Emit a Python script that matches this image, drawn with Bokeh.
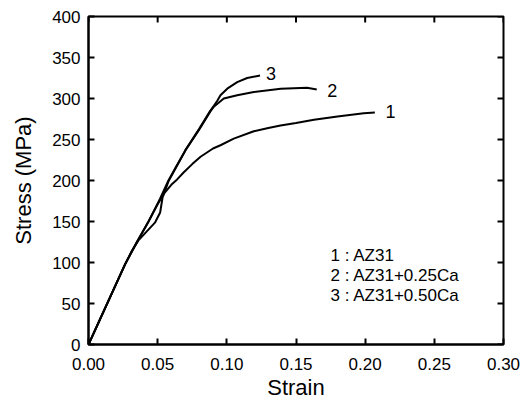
import math
from bokeh.plotting import figure
from bokeh.models import Range1d, FixedTicker, NumeralTickFormatter
from bokeh.embed import file_html
from bokeh.resources import INLINE
from bokeh.core.properties import value

# ---- data ----
strain_1 = [0.0, 0.0265, 0.035, 0.0434, 0.050, 0.055, 0.060, 0.0639, 0.0689, 0.075, 0.081, 0.090,
            0.0954, 0.105, 0.1195, 0.130, 0.1388, 0.150, 0.163, 0.180, 0.199, 0.207]
stress_1 = [0, 98, 125, 150, 171, 185, 195, 201, 210, 220, 229, 239,
            243, 251, 260, 264, 267, 270, 274, 278, 282, 283]

strain_2 = [0.0, 0.0265, 0.035, 0.0434, 0.0482, 0.0518, 0.0578, 0.0640, 0.0701, 0.080, 0.088,
            0.0906, 0.0978, 0.1075, 0.1195, 0.139, 0.158, 0.165]
stress_2 = [0, 98, 125, 150, 166, 178, 200, 219, 237, 262, 284,
            290, 300, 304, 308, 312, 313, 311]

strain_3 = [0.0, 0.0265, 0.0313, 0.0361, 0.0482, 0.0518, 0.0535, 0.0578, 0.0640, 0.0701,
            0.080, 0.088, 0.0906, 0.093, 0.0954, 0.1003, 0.1075, 0.1147, 0.124]
stress_3 = [0, 98, 114, 127, 149, 161, 179, 199, 218, 237,
            263, 285, 291, 297, 304, 312, 320, 325, 328]

curve_ids = ["1", "2", "3"]
curve_label_x = [0.2147, 0.1725, 0.1283]
curve_label_y = [284.5, 310, 331]

legend_lines = ["1 : AZ31", "2 : AZ31+0.25Ca", "3 : AZ31+0.50Ca"]
legend_x = [0.175, 0.175, 0.175]
legend_y = [109, 84.5, 60]

x_ticks = [0.0, 0.05, 0.10, 0.15, 0.20, 0.25, 0.30]
y_ticks = [0, 50, 100, 150, 200, 250, 300, 350, 400]

FONT = "Liberation Sans"

p = figure(width=528, height=406, output_backend="svg", toolbar_location=None,
           x_range=Range1d(x_ticks[0], x_ticks[-1]), y_range=Range1d(y_ticks[0], y_ticks[-1]),
           min_border_left=88, min_border_right=25, min_border_top=16, min_border_bottom=62,
           x_axis_label="Strain", y_axis_label="Stress (MPa)")
p.grid.visible = False
p.outline_line_color = "black"
p.outline_line_width = 2
p.background_fill_color = "white"

for ax in (p.xaxis[0], p.yaxis[0]):
    ax.axis_line_width = 2
    ax.axis_line_color = "black"
    ax.major_tick_in = 6
    ax.major_tick_out = 0
    ax.major_tick_line_width = 2
    ax.minor_tick_line_color = None
    ax.major_label_text_font = FONT
    ax.major_label_text_font_size = "17px"
    ax.major_label_text_color = "black"
    ax.axis_label_text_font = FONT
    ax.axis_label_text_font_size = "22px"
    ax.axis_label_text_font_style = "normal"
    ax.axis_label_text_color = "black"

p.xaxis[0].ticker = FixedTicker(ticks=x_ticks)
p.xaxis[0].formatter = NumeralTickFormatter(format="0.00")
p.xaxis[0].major_label_standoff = 13
p.xaxis[0].axis_label_standoff = 2
p.yaxis[0].ticker = FixedTicker(ticks=y_ticks)
p.yaxis[0].major_label_standoff = 8
p.yaxis[0].axis_label_standoff = 13

# inward ticks on the top and right edges of the frame
p.ray(x=x_ticks, y=[y_ticks[-1]] * len(x_ticks), length=6, length_units="screen",
      angle=-math.pi / 2, line_color="black", line_width=2)
p.ray(x=[x_ticks[-1]] * len(y_ticks), y=y_ticks, length=6, length_units="screen",
      angle=math.pi, line_color="black", line_width=2)

for xs, ys in ((strain_1, stress_1), (strain_2, stress_2), (strain_3, stress_3)):
    p.line(xs, ys, line_color="black", line_width=2)

p.text(x=curve_label_x, y=curve_label_y, text=curve_ids, text_font=value(FONT),
       text_font_size="18px", text_align="left", text_baseline="middle", text_color="black")
p.text(x=legend_x, y=legend_y, text=legend_lines, text_font=value(FONT),
       text_font_size="17px", text_align="left", text_baseline="middle", text_color="black")

open("out.html", "w").write(file_html(p, INLINE))
